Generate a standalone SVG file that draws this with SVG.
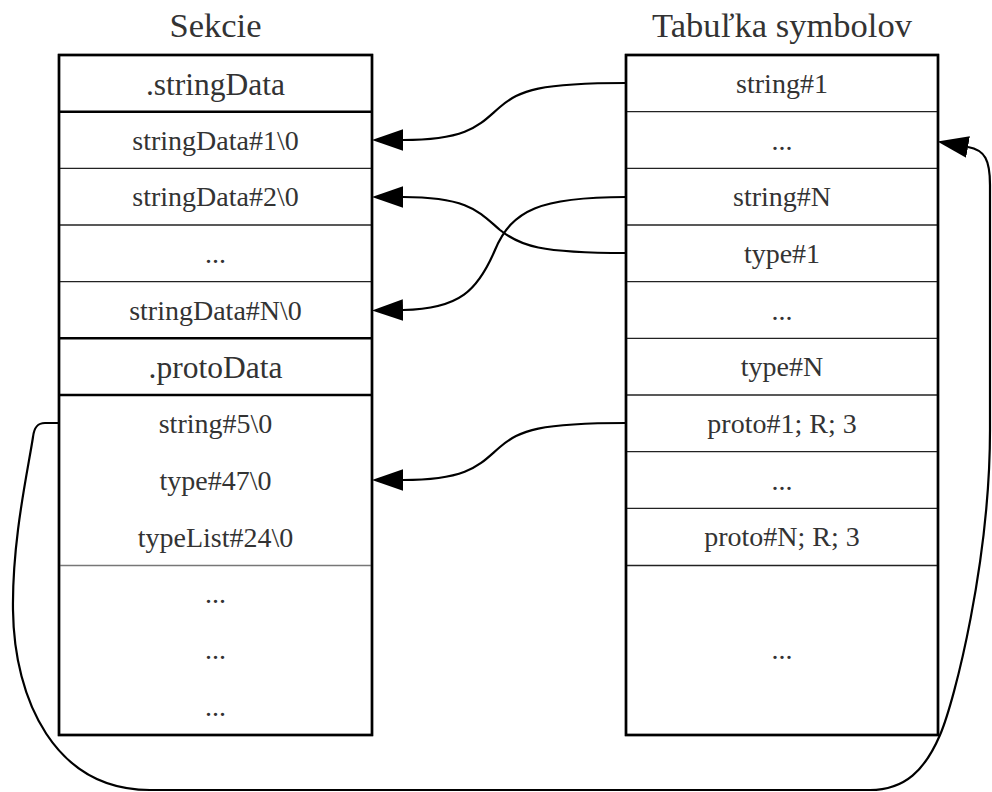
<svg xmlns="http://www.w3.org/2000/svg" width="992" height="792" viewBox="0 0 992 792">
<style>
text{font-family:"Liberation Serif","Times New Roman",serif;fill:#333;text-anchor:middle}
.title{font-size:34.5px}
.hdr{font-size:31.5px}
.cell{font-size:28px}
.border{fill:#fff;stroke:#000;stroke-width:2.4}
.thick{stroke:#000;stroke-width:2.4}
.thin{stroke:#222;stroke-width:1.3}
.gray{stroke:#777;stroke-width:1.3}
.conn{fill:none;stroke:#000;stroke-width:2.2}
</style>
<defs>
<marker id="arr" markerUnits="userSpaceOnUse" markerWidth="31" markerHeight="22" viewBox="0 0 30 21" refX="0" refY="10.5" orient="auto">
<path d="M0,0 L30,10.5 L0,21 z" fill="#000"/>
</marker>
</defs>
<g id="title-left"><text class="title" x="215.5" y="37">Sekcie</text></g>
<g id="title-right"><text class="title" x="782" y="37">Tabuľka symbolov</text></g>
<g id="sections">
<rect class="border" x="59" y="55" width="313" height="680"/>
<line class="thick" x1="59" y1="111.7" x2="372" y2="111.7"/>
<line class="thin" x1="59" y1="168.3" x2="372" y2="168.3"/>
<line class="thin" x1="59" y1="225" x2="372" y2="225"/>
<line class="thin" x1="59" y1="281.7" x2="372" y2="281.7"/>
<line class="thick" x1="59" y1="338.3" x2="372" y2="338.3"/>
<line class="thick" x1="59" y1="395" x2="372" y2="395"/>
<line class="gray" x1="59" y1="565.5" x2="372" y2="565.5"/>
<rect x="59" y="55" width="313" height="680" fill="none" stroke="#000" stroke-width="2.4"/>
<g id="sec-stringData"><text class="hdr" x="215.5" y="94.5">.stringData</text></g>
<g id="sec-sd1"><text class="cell" x="215.5" y="149.5">stringData#1\0</text></g>
<g id="sec-sd2"><text class="cell" x="215.5" y="206">stringData#2\0</text></g>
<g id="sec-sddots"><text class="cell" x="215.5" y="263">...</text></g>
<g id="sec-sdN"><text class="cell" x="215.5" y="319.5">stringData#N\0</text></g>
<g id="sec-protoData"><text class="hdr" x="215.5" y="377.5">.protoData</text></g>
<g id="sec-s5"><text class="cell" x="215.5" y="433">string#5\0</text></g>
<g id="sec-t47"><text class="cell" x="215.5" y="490">type#47\0</text></g>
<g id="sec-tl24"><text class="cell" x="215.5" y="547">typeList#24\0</text></g>
<g id="sec-d1"><text class="cell" x="215.5" y="603">...</text></g>
<g id="sec-d2"><text class="cell" x="215.5" y="659">...</text></g>
<g id="sec-d3"><text class="cell" x="215.5" y="716">...</text></g>
</g>
<g id="symbols">
<rect class="border" x="626" y="55" width="312" height="680"/>
<line class="thin" x1="626" y1="111.7" x2="938" y2="111.7"/>
<line class="thin" x1="626" y1="168.3" x2="938" y2="168.3"/>
<line class="thin" x1="626" y1="225" x2="938" y2="225"/>
<line class="thin" x1="626" y1="281.7" x2="938" y2="281.7"/>
<line class="thin" x1="626" y1="338.3" x2="938" y2="338.3"/>
<line class="thin" x1="626" y1="395" x2="938" y2="395"/>
<line class="thin" x1="626" y1="451.7" x2="938" y2="451.7"/>
<line class="thin" x1="626" y1="508.3" x2="938" y2="508.3"/>
<line class="thin" x1="626" y1="565.5" x2="938" y2="565.5"/>
<rect x="626" y="55" width="312" height="680" fill="none" stroke="#000" stroke-width="2.4"/>
<g id="sym-s1"><text class="cell" x="782" y="93">string#1</text></g>
<g id="sym-sdots"><text class="cell" x="782" y="149.5">...</text></g>
<g id="sym-sN"><text class="cell" x="782" y="206">string#N</text></g>
<g id="sym-t1"><text class="cell" x="782" y="263">type#1</text></g>
<g id="sym-tdots"><text class="cell" x="782" y="319.5">...</text></g>
<g id="sym-tN"><text class="cell" x="782" y="376">type#N</text></g>
<g id="sym-p1"><text class="cell" x="782" y="433">proto#1; R; 3</text></g>
<g id="sym-pdots"><text class="cell" x="782" y="490">...</text></g>
<g id="sym-pN"><text class="cell" x="782" y="546">proto#N; R; 3</text></g>
<g id="sym-rest"><text class="cell" x="782" y="659">...</text></g>
</g>
<g id="connectors">
<path class="conn" marker-end="url(#arr)" d="M626,83 C540,83 520,90 500,107 C480,124 470,140 403,140"/>
<path class="conn" marker-end="url(#arr)" d="M626,253 C540,253 520,246 500,230 C480,213 470,197 403,197"/>
<path class="conn" marker-end="url(#arr)" d="M626,197 C540,197 512,210 495,250 C478,290 460,309 403,310"/>
<path class="conn" marker-end="url(#arr)" d="M626,423 C540,423 520,430 500,447 C480,464 470,480 403,480"/>
<path class="conn" marker-end="url(#arr)" d="M59,423 L45,423 C37,423 34,428 33,437 C28,470 12,540 13,610 C14,700 55,790 150,790 L870,790 C905,790 925,770 940,735 C955,700 990,560 990,430 L990,185 C990,160 985,150 968,147"/>
</g>
</svg>
